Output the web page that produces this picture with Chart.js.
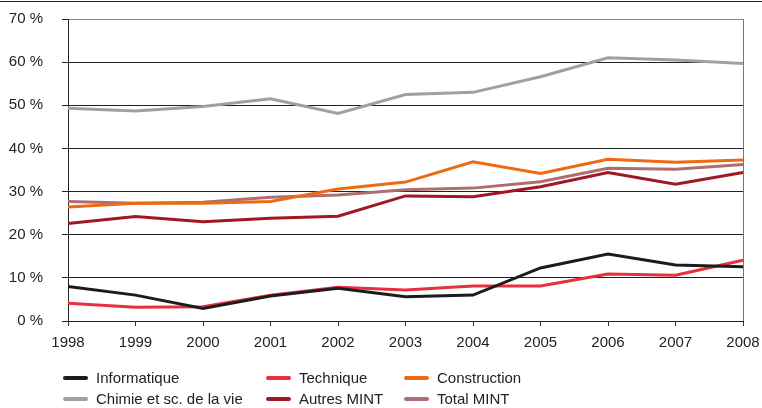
<!DOCTYPE html>
<html>
<head>
<meta charset="utf-8">
<script src="https://cdn.jsdelivr.net/npm/chart.js@4/dist/chart.umd.min.js"></script>
<style>
  body { margin: 0; background: #fff; }
  #wrap { position: relative; width: 762px; height: 408px; }
  #topRule { position: absolute; left: 0; top: 1px; width: 762px; height: 1px; background: #222; }
  #legend { position: absolute; left: 0; top: 0; font-family: "Liberation Sans", Arial, sans-serif; font-size: 15px; color: #222; }
  .item { position: absolute; white-space: nowrap; line-height: 18px; }
  .item span.swatch { position: absolute; left: 0; top: 7px; width: 25px; height: 4px; border-radius: 2px; }
  .item span.lbl { position: absolute; left: 33px; top: 0; }
</style>
</head>
<body>
<div id="wrap">
  <canvas id="grafico" width="762" height="408"></canvas>
  <div id="topRule"></div>
  <div id="legend"></div>
</div>
<script>
const annees = ['1998','1999','2000','2001','2002','2003','2004','2005','2006','2007','2008'];
const informatique = [8.0, 6.0, 2.9, 5.8, 7.6, 5.6, 6.0, 12.3, 15.5, 13.0, 12.6];
const technique    = [4.1, 3.2, 3.3, 6.0, 7.8, 7.2, 8.1, 8.1, 10.9, 10.6, 14.1];
const construction = [26.4, 27.3, 27.3, 27.7, 30.6, 32.2, 36.9, 34.2, 37.5, 36.8, 37.3];
const chimie       = [49.3, 48.7, 49.7, 51.5, 48.1, 52.5, 53.0, 56.6, 61.0, 60.5, 59.7];
const autresMint   = [22.6, 24.2, 23.0, 23.8, 24.3, 29.0, 28.8, 31.1, 34.4, 31.7, 34.4];
const totalMint    = [27.7, 27.3, 27.5, 28.7, 29.2, 30.4, 30.8, 32.3, 35.4, 35.2, 36.3];
const graduations  = [0, 10, 20, 30, 40, 50, 60, 70];

// ordre de dessin : les premiers sont au-dessus
const series = [
  { label: 'Informatique', data: informatique, color: '#1c1c1e', col: 0, row: 0 },
  { label: 'Technique', data: technique, color: '#e6303c', col: 1, row: 0 },
  { label: 'Construction', data: construction, color: '#ee6a12', col: 2, row: 0 },
  { label: 'Autres MINT', data: autresMint, color: '#a01822', col: 1, row: 1 },
  { label: 'Total MINT', data: totalMint, color: '#b06d6f', col: 2, row: 1 },
  { label: 'Chimie et sc. de la vie', data: chimie, color: '#a0a0a0', col: 0, row: 1 }
];

const police = '"Liberation Sans", Arial, sans-serif';
const ctx = document.getElementById('grafico').getContext('2d');
new Chart(ctx, {
  type: 'line',
  data: {
    labels: annees,
    datasets: series.map((s, i) => ({
      label: s.label, data: s.data, borderColor: s.color, backgroundColor: s.color,
      borderWidth: 3, pointRadius: 0, tension: 0, order: i
    }))
  },
  options: {
    responsive: false, animation: false,
    layout: { padding: { left: 0, right: 19, top: 19, bottom: 57 } },
    plugins: { legend: { display: false }, tooltip: { enabled: false } },
    scales: {
      x: {
        offset: false,
        afterFit: s => { s.height = 30; s.paddingLeft = 0; s.paddingRight = 0; },
        grid: {
          drawOnChartArea: true, tickLength: 5, tickColor: '#333', lineWidth: 1,
          color: c => c.index === annees.length - 1 ? '#777' : 'rgba(0,0,0,0)'
        },
        border: { color: '#222', width: 1 },
        ticks: { color: '#222', padding: 8, maxRotation: 0, autoSkip: false,
          font: { family: police, size: 15 } }
      },
      y: {
        min: 0, max: 70,
        afterFit: s => { s.width = 68; s.paddingTop = 0; s.paddingBottom = 0; },
        afterBuildTicks: s => { s.ticks = graduations.map(v => ({ value: v })); },
        grid: {
          tickLength: 6, tickColor: '#222', lineWidth: 1,
          color: c => c.tick && c.tick.value === 70 ? '#888' : '#222'
        },
        border: { color: '#222', width: 1 },
        ticks: { color: '#222', padding: 19, callback: v => v + ' %',
          font: { family: police, size: 15 } }
      }
    }
  }
});

// légende en grille comme l'original
const colX = [63, 266, 404];
const rowY = [369, 390];
const legende = document.getElementById('legend');
series.forEach(s => {
  const div = document.createElement('div');
  div.className = 'item';
  div.style.left = colX[s.col] + 'px';
  div.style.top = rowY[s.row] + 'px';
  div.innerHTML = `<span class="swatch" style="background:${s.color}"></span><span class="lbl">${s.label}</span>`;
  legende.appendChild(div);
});
</script>
</body>
</html>
